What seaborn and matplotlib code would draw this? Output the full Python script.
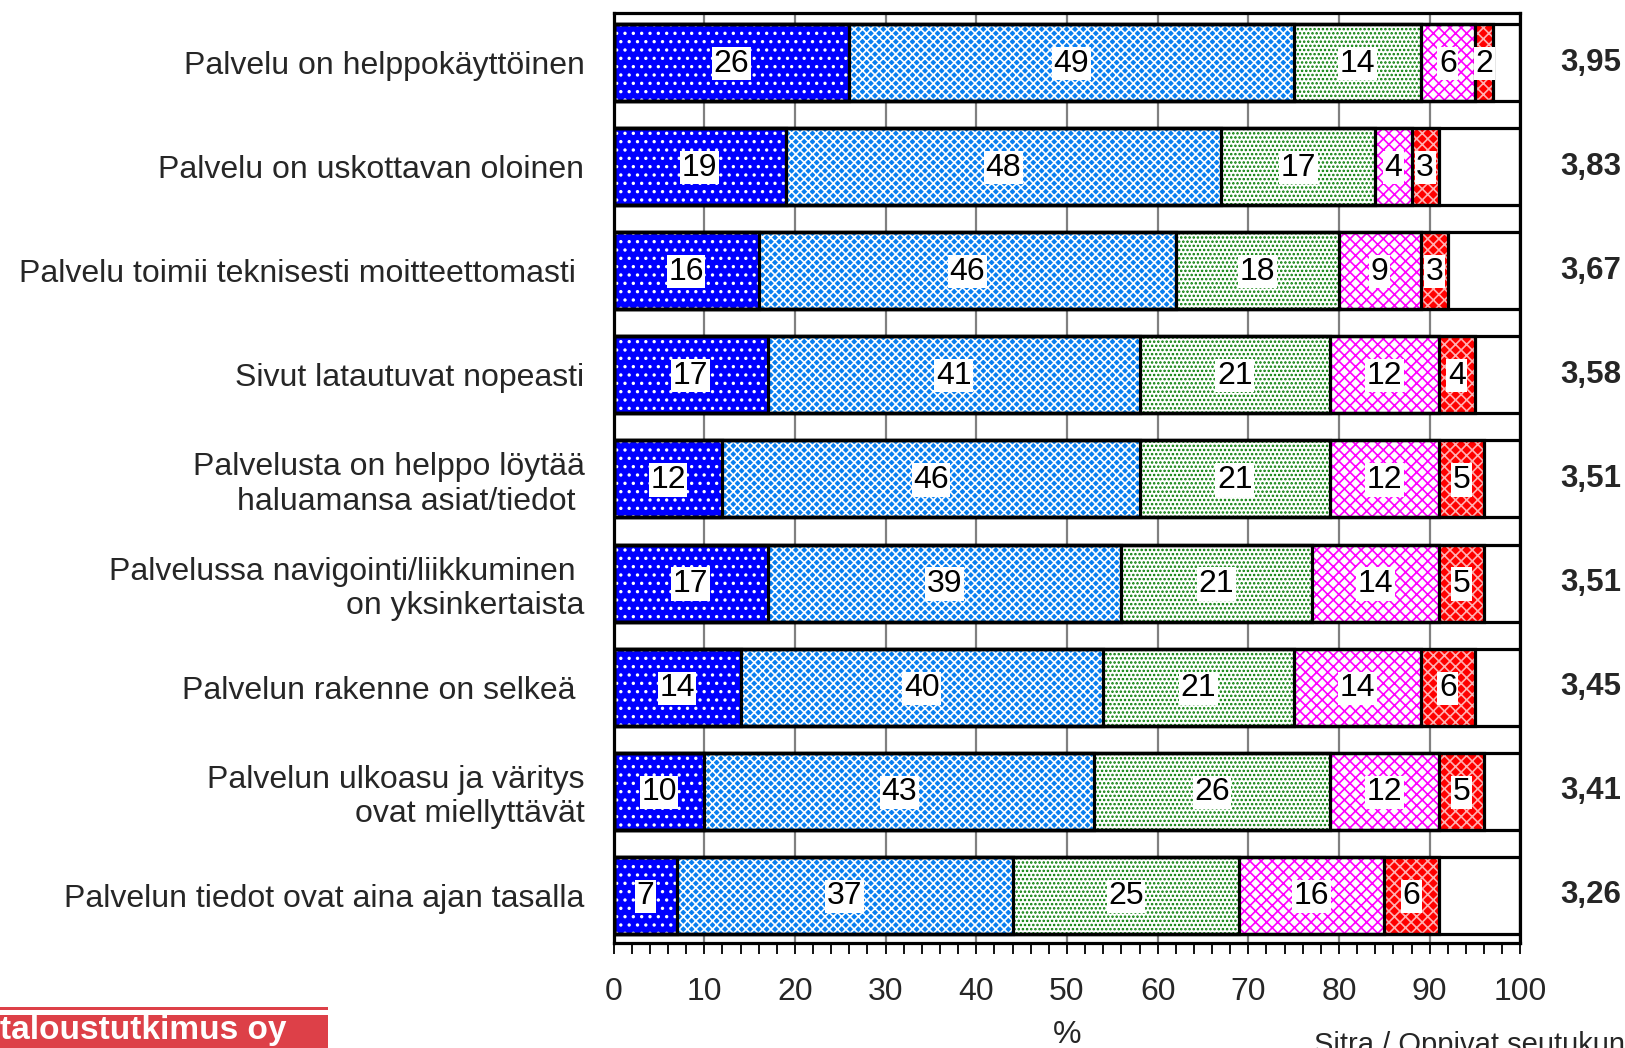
import numpy as np
import seaborn as sns
import matplotlib.pyplot as plt
from matplotlib.ticker import MultipleLocator

# väittämät ylhäältä alas
vaittamat = [
    'Palvelu on helppokäyttöinen',
    'Palvelu on uskottavan oloinen',
    'Palvelu toimii teknisesti moitteettomasti ',
    'Sivut latautuvat nopeasti',
    'Palvelusta on helppo löytää\nhaluamansa asiat/tiedot ',
    'Palvelussa navigointi/liikkuminen \non yksinkertaista',
    'Palvelun rakenne on selkeä ',
    'Palvelun ulkoasu ja väritys\novat miellyttävät',
    'Palvelun tiedot ovat aina ajan tasalla',
]

# vastausjakaumat (%)
taysin_samaa = [26, 19, 16, 17, 12, 17, 14, 10, 7]
jokseenkin_samaa = [49, 48, 46, 41, 46, 39, 40, 43, 37]
ei_samaa_eika_eri = [14, 17, 18, 21, 21, 21, 21, 26, 25]
jokseenkin_eri = [6, 4, 9, 12, 12, 14, 14, 12, 16]
taysin_eri = [2, 3, 3, 4, 5, 5, 6, 5, 6]

keskiarvot = ['3,95', '3,83', '3,67', '3,58', '3,51', '3,51', '3,45', '3,41', '3,26']

sns.set_theme(style='white')
plt.rcParams['font.family'] = ['Liberation Sans', 'DejaVu Sans']
plt.rcParams['hatch.linewidth'] = 1.2

fig = plt.figure(figsize=(16.25, 10.48), dpi=100)
ax = fig.add_axes([0.3776, 0.100, 0.558, 0.888])

# (arvot, täyttöväri, kuvio, kuvion väri)
osat = [
    (taysin_samaa, '#0000FF', '..', 'white'),
    (jokseenkin_samaa, '#0A7FF0', 'xxxx', 'white'),
    (ei_samaa_eika_eri, 'white', '....', '#007A00'),
    (jokseenkin_eri, 'white', 'xxx', '#FF00FF'),
    (taysin_eri, '#FF0000', 'xxx', '#FFB0B0'),
]

# kumulatiiviset summat pinottuja palkkeja varten
kertymat = []
summa = np.zeros(len(vaittamat))
for arvot, _, _, _ in osat:
    summa = summa + np.array(arvot)
    kertymat.append(summa.copy())

leveys = 0.74
# valkoinen tausta 100 %:iin asti
sns.barplot(x=[100] * len(vaittamat), y=vaittamat, orient='h', color='white',
            saturation=1, width=leveys, linewidth=0, errorbar=None, ax=ax)
for (arvot, vari, kuvio, kvari), kum in reversed(list(zip(osat, kertymat))):
    sns.barplot(x=kum, y=vaittamat, orient='h', color=vari, saturation=1,
                hatch=kuvio, edgecolor=kvari, linewidth=0, width=leveys,
                errorbar=None, ax=ax)
# mustat reunaviivat
for kum in [np.full(len(vaittamat), 100.0)] + kertymat:
    sns.barplot(x=kum, y=vaittamat, orient='h', fill=False, color='black',
                linewidth=2.3, width=leveys, errorbar=None, ax=ax)

# lukuarvot palkkien keskelle
for (arvot, _, _, _), kum in zip(osat, kertymat):
    for i, (v, k) in enumerate(zip(arvot, kum)):
        ax.text(k - v / 2, i + 0.01, str(v), ha='center', va='center',
                fontsize=23, color='black',
                bbox=dict(facecolor='white', edgecolor='none', pad=1.2))

# keskiarvot oikealle
for i, ka in enumerate(keskiarvot):
    ax.text(107.8, i, ka, ha='center', va='center', fontsize=22.5,
            fontweight='bold', clip_on=False)

ax.set_xlim(0, 100)
ax.set_ylim(8.46, -0.48)
ax.xaxis.set_major_locator(MultipleLocator(10))
ax.xaxis.set_minor_locator(MultipleLocator(2))
ax.xaxis.grid(True, which='major', color='#808080', linewidth=1.6)
ax.set_axisbelow(True)
ax.tick_params(axis='x', which='both', bottom=True, direction='out',
               length=8, width=1.3, color='black')
ax.tick_params(axis='x', which='major', labelsize=23, pad=16)
ax.tick_params(axis='y', left=False, labelsize=23, pad=15)
for lab in ax.get_yticklabels():
    lab.set_multialignment('right')
for sp in ax.spines.values():
    sp.set_visible(True)
    sp.set_color('black')
    sp.set_linewidth(2.3)
ax.set_xlabel('%', fontsize=23, labelpad=10)
ax.set_ylabel('')

# logo vasemmassa alakulmassa
fig.add_artist(plt.Rectangle((0, 1 - 1010 / 1048), 328 / 1625, 3.5 / 1048,
                             transform=fig.transFigure, color='#DD4048', lw=0))
fig.add_artist(plt.Rectangle((0, 0), 328 / 1625, 33 / 1048,
                             transform=fig.transFigure, color='#DD4048', lw=0))
fig.text(0.0, 1 - 1031 / 1048, 'taloustutkimus oy', color='white', fontsize=24,
         fontweight='bold', va='center', ha='left')

fig.text(1314 / 1625, 1 - 1031 / 1048, 'Sitra / Oppivat seutukunnat', fontsize=21,
         va='top', ha='left')

fig.savefig('out.png', dpi=100)
